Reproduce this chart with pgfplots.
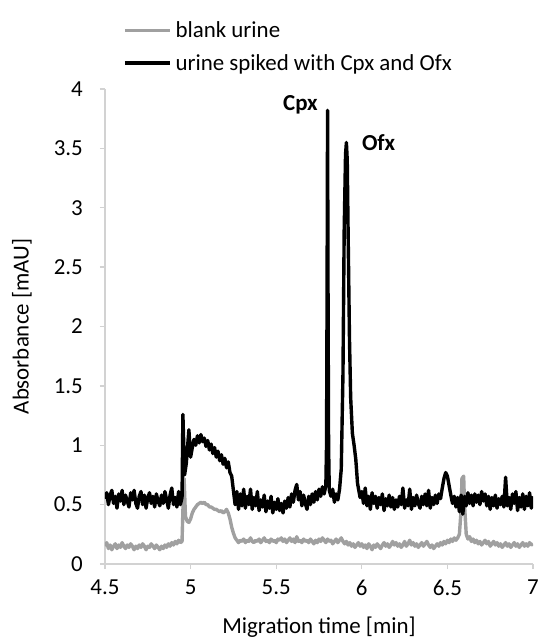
\documentclass[border=0pt]{standalone}
\usepackage{fontspec}
\setmainfont{Carlito}
\usepackage{pgfplots}
\pgfplotsset{compat=1.18}
\definecolor{blankgray}{RGB}{160,160,160}
\definecolor{axisgray}{RGB}{210,210,210}

\begin{document}
\begin{tikzpicture}[font=\fontsize{23}{27}\selectfont]
\begin{axis}[
    scale only axis,
    width=428bp, height=475bp,
    xmin=4.5, xmax=7, ymin=0, ymax=4,
    xtick={4.5,5,5.5,6,6.5,7},
    ytick={0,0.5,1,1.5,2,2.5,3,3.5,4},
    axis x line*=bottom, axis y line*=left,
    axis line style={axisgray, line width=1.3bp},
    tick style={axisgray, line width=1.3bp},
    tick align=outside, major tick length=5bp,
    /pgf/number format/assume math mode=true,
    xticklabel style={inner sep=0pt}, xticklabel shift=11bp,
    yticklabel style={inner sep=0pt}, yticklabel shift=17bp,
    xlabel={Migration time [min]},
    ylabel={Absorbance [mAU]},
    xlabel style={at={(axis description cs:0.5,-0.1453)}, anchor=base, inner sep=0pt},
    ylabel style={at={(axis description cs:-0.194,0.5)}, anchor=center, inner sep=0pt},
    legend style={at={(axis description cs:0.042,1.036)}, anchor=south west,
      draw=none, fill=none, row sep=15bp, inner sep=0pt,
      nodes={inner sep=0pt},
      /tikz/every odd column/.append style={column sep=4bp},
      font=\fontsize{23}{27}\selectfont},
    legend cell align=left,
    legend image code/.code={\draw[#1] (0bp,0bp) -- (45bp,0bp);},
    every axis plot/.append style={line join=round},
]
\addplot[blankgray, line width=3.4bp] coordinates {
(4.50,0.15)(4.51,0.18)(4.52,0.13)(4.53,0.16)(4.54,0.12)(4.55,0.15)(4.56,0.17)(4.57,0.13)(4.58,0.16)(4.59,0.14)
(4.60,0.18)(4.61,0.15)(4.62,0.13)(4.63,0.16)(4.64,0.14)(4.65,0.17)(4.66,0.15)(4.67,0.12)(4.68,0.15)(4.69,0.13)
(4.70,0.16)(4.71,0.14)(4.72,0.17)(4.73,0.15)(4.74,0.12)(4.75,0.15)(4.76,0.14)(4.77,0.17)(4.78,0.15)(4.79,0.13)
(4.80,0.16)(4.81,0.14)(4.82,0.12)(4.83,0.15)(4.84,0.13)(4.85,0.16)(4.86,0.14)(4.87,0.17)(4.88,0.15)(4.89,0.18)
(4.90,0.16)(4.91,0.19)(4.92,0.17)(4.93,0.20)(4.94,0.18)(4.95,0.19)(4.955,0.45)(4.962,0.72)(4.97,0.40)(4.98,0.36)
(4.99,0.35)(5.00,0.38)(5.01,0.43)(5.02,0.46)(5.03,0.48)(5.04,0.50)(5.05,0.51)(5.06,0.52)(5.07,0.51)(5.08,0.52)
(5.09,0.50)(5.10,0.50)(5.11,0.48)(5.12,0.48)(5.13,0.47)(5.14,0.46)(5.15,0.46)(5.16,0.45)(5.17,0.44)(5.18,0.45)
(5.19,0.43)(5.20,0.44)(5.21,0.46)(5.22,0.43)(5.23,0.38)(5.24,0.31)(5.25,0.26)(5.26,0.22)(5.27,0.20)(5.28,0.18)
(5.29,0.20)(5.30,0.19)(5.31,0.21)(5.32,0.18)(5.33,0.20)(5.34,0.19)(5.35,0.22)(5.36,0.19)(5.37,0.18)(5.38,0.20)
(5.39,0.19)(5.40,0.21)(5.41,0.18)(5.42,0.20)(5.43,0.22)(5.44,0.19)(5.45,0.20)(5.46,0.18)(5.47,0.21)(5.48,0.19)
(5.49,0.20)(5.50,0.18)(5.51,0.21)(5.52,0.20)(5.53,0.22)(5.54,0.19)(5.55,0.21)(5.56,0.18)(5.57,0.20)(5.58,0.22)
(5.59,0.19)(5.60,0.21)(5.61,0.18)(5.62,0.23)(5.63,0.19)(5.64,0.20)(5.65,0.18)(5.66,0.21)(5.67,0.19)(5.68,0.20)
(5.69,0.18)(5.70,0.21)(5.71,0.19)(5.72,0.17)(5.73,0.20)(5.74,0.18)(5.75,0.21)(5.76,0.19)(5.77,0.22)(5.78,0.20)
(5.79,0.18)(5.80,0.21)(5.81,0.19)(5.82,0.20)(5.83,0.17)(5.84,0.19)(5.85,0.21)(5.86,0.18)(5.87,0.20)(5.88,0.22)
(5.89,0.19)(5.90,0.17)(5.91,0.19)(5.92,0.16)(5.93,0.18)(5.94,0.15)(5.95,0.17)(5.96,0.14)(5.97,0.16)(5.98,0.18)
(5.99,0.15)(6.00,0.17)(6.01,0.14)(6.02,0.16)(6.03,0.13)(6.04,0.17)(6.05,0.15)(6.06,0.12)(6.07,0.16)(6.08,0.14)
(6.09,0.17)(6.10,0.15)(6.11,0.13)(6.12,0.16)(6.13,0.18)(6.14,0.15)(6.15,0.17)(6.16,0.14)(6.17,0.16)(6.18,0.19)
(6.19,0.16)(6.20,0.18)(6.21,0.15)(6.22,0.17)(6.23,0.14)(6.24,0.16)(6.25,0.19)(6.26,0.15)(6.27,0.17)(6.28,0.20)
(6.29,0.16)(6.30,0.18)(6.31,0.15)(6.32,0.17)(6.33,0.14)(6.34,0.16)(6.35,0.18)(6.36,0.15)(6.37,0.17)(6.38,0.19)
(6.39,0.16)(6.40,0.14)(6.41,0.16)(6.42,0.13)(6.43,0.15)(6.44,0.17)(6.45,0.15)(6.46,0.18)(6.47,0.16)(6.48,0.19)
(6.49,0.17)(6.50,0.20)(6.51,0.18)(6.52,0.21)(6.53,0.19)(6.54,0.22)(6.55,0.20)(6.56,0.22)(6.57,0.25)(6.58,0.45)
(6.585,0.72)(6.595,0.74)(6.60,0.50)(6.61,0.25)(6.62,0.21)(6.63,0.23)(6.64,0.19)(6.65,0.21)(6.66,0.18)(6.67,0.20)
(6.68,0.17)(6.69,0.19)(6.70,0.16)(6.71,0.18)(6.72,0.20)(6.73,0.17)(6.74,0.19)(6.75,0.15)(6.76,0.17)(6.77,0.19)
(6.78,0.16)(6.79,0.18)(6.80,0.15)(6.81,0.17)(6.82,0.14)(6.83,0.16)(6.84,0.18)(6.85,0.15)(6.86,0.17)(6.87,0.14)
(6.88,0.16)(6.89,0.18)(6.90,0.15)(6.91,0.17)(6.92,0.14)(6.93,0.16)(6.94,0.18)(6.95,0.15)(6.96,0.17)(6.97,0.15)
(6.98,0.18)(6.99,0.16)(7.00,0.17)
};
\addlegendentry{blank urine}
\addplot[black, line width=3.4bp] coordinates {
(4.50,0.55)(4.51,0.60)(4.52,0.50)(4.53,0.58)(4.54,0.62)(4.55,0.51)(4.56,0.57)(4.57,0.47)(4.58,0.59)(4.59,0.53)
(4.60,0.62)(4.61,0.50)(4.62,0.58)(4.63,0.53)(4.64,0.48)(4.65,0.60)(4.66,0.54)(4.67,0.62)(4.68,0.51)(4.69,0.47)
(4.70,0.57)(4.71,0.61)(4.72,0.50)(4.73,0.58)(4.74,0.47)(4.75,0.56)(4.76,0.60)(4.77,0.51)(4.78,0.57)(4.79,0.48)
(4.80,0.59)(4.81,0.53)(4.82,0.49)(4.83,0.58)(4.84,0.51)(4.85,0.61)(4.86,0.54)(4.87,0.47)(4.88,0.58)(4.89,0.64)
(4.90,0.50)(4.91,0.56)(4.92,0.48)(4.93,0.61)(4.94,0.50)(4.95,0.56)(4.955,1.26)(4.965,0.75)(4.975,0.85)(4.99,1.13)
(5.00,0.90)(5.01,0.98)(5.02,1.05)(5.03,1.00)(5.04,1.08)(5.05,1.02)(5.06,1.09)(5.07,1.03)(5.08,1.06)(5.09,0.99)
(5.10,1.04)(5.11,0.96)(5.12,1.01)(5.13,0.93)(5.14,0.98)(5.15,0.90)(5.16,0.95)(5.17,0.87)(5.18,0.92)(5.19,0.84)
(5.20,0.89)(5.21,0.81)(5.22,0.86)(5.23,0.77)(5.24,0.74)(5.25,0.62)(5.26,0.50)(5.27,0.61)(5.28,0.46)(5.29,0.59)
(5.30,0.49)(5.31,0.63)(5.32,0.47)(5.33,0.57)(5.34,0.50)(5.35,0.63)(5.36,0.46)(5.37,0.56)(5.38,0.49)(5.39,0.61)
(5.40,0.45)(5.41,0.54)(5.42,0.48)(5.43,0.58)(5.44,0.44)(5.45,0.53)(5.46,0.47)(5.47,0.57)(5.48,0.43)(5.49,0.52)
(5.50,0.46)(5.51,0.55)(5.52,0.45)(5.53,0.51)(5.54,0.43)(5.55,0.53)(5.56,0.47)(5.57,0.56)(5.58,0.48)(5.59,0.59)
(5.60,0.52)(5.61,0.62)(5.62,0.67)(5.63,0.54)(5.64,0.61)(5.65,0.49)(5.66,0.58)(5.67,0.51)(5.68,0.46)(5.69,0.57)
(5.70,0.50)(5.71,0.59)(5.72,0.52)(5.73,0.61)(5.74,0.54)(5.75,0.63)(5.76,0.57)(5.77,0.65)(5.78,0.59)(5.79,0.66)
(5.794,1.0)(5.797,2.2)(5.800,3.82)(5.803,2.2)(5.806,1.0)(5.81,0.62)(5.82,0.57)(5.83,0.63)(5.84,0.52)(5.85,0.59)
(5.86,0.54)(5.87,0.63)(5.88,0.80)(5.89,1.6)(5.897,2.8)(5.905,3.45)(5.91,3.55)(5.915,3.4)(5.92,2.8)(5.928,1.9)
(5.935,1.4)(5.945,1.1)(5.955,1.0)(5.965,0.88)(5.975,0.68)(5.99,0.56)(6.00,0.61)(6.01,0.51)(6.02,0.64)(6.03,0.49)
(6.04,0.57)(6.05,0.46)(6.06,0.60)(6.07,0.51)(6.08,0.57)(6.09,0.47)(6.10,0.56)(6.11,0.50)(6.12,0.59)(6.13,0.45)
(6.14,0.55)(6.15,0.49)(6.16,0.58)(6.17,0.48)(6.18,0.56)(6.19,0.46)(6.20,0.54)(6.21,0.48)(6.22,0.57)(6.23,0.50)
(6.24,0.64)(6.25,0.47)(6.26,0.54)(6.27,0.49)(6.28,0.63)(6.29,0.46)(6.30,0.56)(6.31,0.49)(6.32,0.58)(6.33,0.51)
(6.34,0.47)(6.35,0.57)(6.36,0.50)(6.37,0.59)(6.38,0.49)(6.39,0.62)(6.40,0.47)(6.41,0.56)(6.42,0.50)(6.43,0.58)
(6.44,0.51)(6.45,0.59)(6.46,0.55)(6.47,0.64)(6.48,0.72)(6.49,0.77)(6.50,0.74)(6.51,0.66)(6.52,0.58)(6.53,0.51)
(6.54,0.57)(6.55,0.48)(6.56,0.56)(6.57,0.44)(6.58,0.58)(6.59,0.42)(6.60,0.57)(6.61,0.49)(6.62,0.60)(6.63,0.51)
(6.64,0.58)(6.65,0.49)(6.66,0.59)(6.67,0.52)(6.68,0.58)(6.69,0.50)(6.70,0.61)(6.71,0.53)(6.72,0.59)(6.73,0.49)
(6.74,0.57)(6.75,0.46)(6.76,0.56)(6.77,0.49)(6.78,0.58)(6.79,0.47)(6.80,0.55)(6.81,0.50)(6.82,0.57)(6.83,0.48)
(6.84,0.73)(6.85,0.49)(6.86,0.56)(6.87,0.46)(6.88,0.59)(6.89,0.51)(6.90,0.61)(6.91,0.45)(6.92,0.56)(6.93,0.48)
(6.94,0.59)(6.95,0.46)(6.96,0.57)(6.97,0.49)(6.98,0.60)(6.99,0.47)(7.00,0.57)
};
\addlegendentry{urine spiked with Cpx and Ofx}
\node[font=\fontsize{23}{27}\selectfont\bfseries, anchor=base east, inner sep=0pt] at (axis cs:5.744,3.82) {Cpx};
\node[font=\fontsize{23}{27}\selectfont\bfseries, anchor=base west, inner sep=0pt] at (axis cs:6.0,3.48) {Ofx};
\end{axis}
\pgfresetboundingbox
\useasboundingbox (-105bp,-76bp) rectangle (435bp,564bp);
\end{tikzpicture}
\end{document}
